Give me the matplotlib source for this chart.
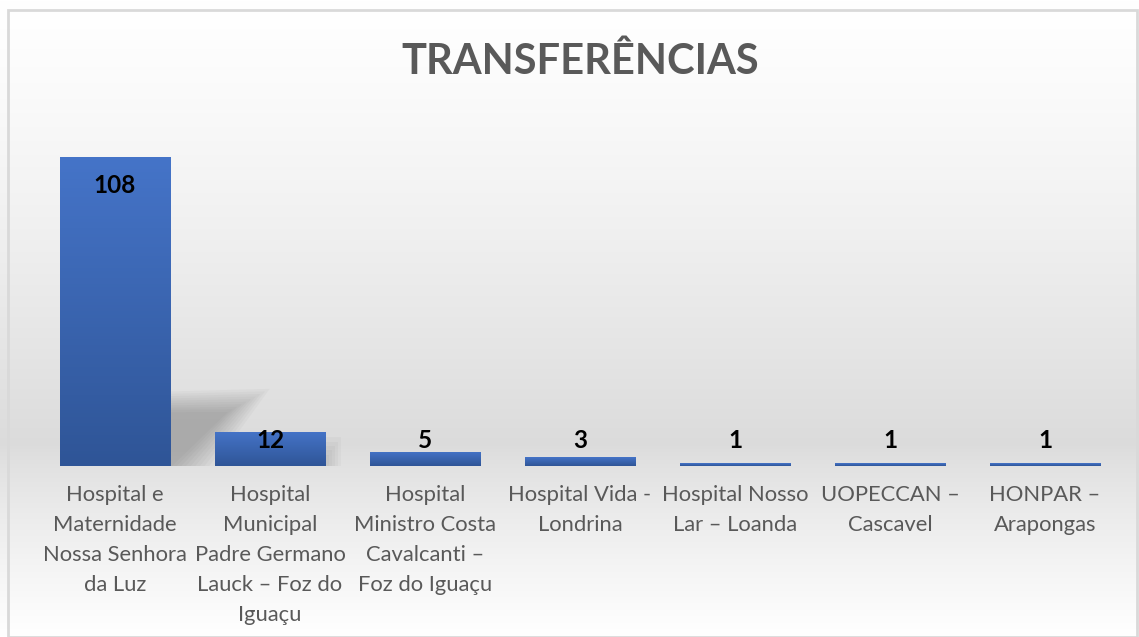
import numpy as np
import matplotlib.pyplot as plt
from matplotlib.patches import Rectangle, Polygon

# Data
categories = [
    "Hospital e\nMaternidade\nNossa Senhora\nda Luz",
    "Hospital\nMunicipal\nPadre Germano\nLauck – Foz do\nIguaçu",
    "Hospital\nMinistro Costa\nCavalcanti –\nFoz do Iguaçu",
    "Hospital Vida -\nLondrina",
    "Hospital Nosso\nLar – Loanda",
    "UOPECCAN –\nCascavel",
    "HONPAR –\nArapongas",
]
values = [108, 12, 5, 3, 1, 1, 1]
title = "TRANSFERÊNCIAS"

plt.rcParams['font.family'] = ['Lato', 'DejaVu Sans']

W, H = 1139, 637
fig = plt.figure(figsize=(W / 100, H / 100), dpi=100)

# background gradient (white -> light gray -> white)
bg = fig.add_axes([0, 0, 1, 1], zorder=0)
rows = np.linspace(0, 1, 400)  # 0 = top
peak = 445 / H
shade = np.where(rows < peak,
                 1.0 - 0.14 * (rows / peak) ** 1.3,
                 0.86 + 0.14 * ((rows - peak) / (1 - peak)) ** 0.8)
img = np.repeat(shade[:, None], 2, axis=1)
bg.imshow(np.dstack([img, img, img]), aspect='auto', extent=[0, 1, 0, 1], origin='upper')
bg.add_patch(Rectangle((8 / W, 0), (1137 - 8) / W, 1 - 10 / H, fill=False,
                       edgecolor='#d9d9d9', linewidth=2))
bg.set_xlim(0, 1)
bg.set_ylim(0, 1)
bg.axis('off')

ax = fig.add_axes([37.5 / W, (H - 466) / H, 1085 / W, (466 - 123) / H], zorder=1)
ax.patch.set_alpha(0)
x = np.arange(len(categories))
bw = 0.716

# soft shadow behind the tall bar
x0 = x[0] + bw / 2
for k in range(10):
    s = k * 0.03
    ax.add_patch(Polygon([(x0 - 0.05, 0), (x0 - 0.05, 26 - k * 0.8),
                          (x0 + 0.64 - s, 27 - k * 0.9), (x0 + 0.28 - s, 0)],
                         closed=True, facecolor='#505050', edgecolor='none', alpha=0.04, zorder=1))
x1 = x[1] + bw / 2
for k in range(5):
    ax.add_patch(Rectangle((x1 - 0.03, 0), 0.13 - k * 0.02, 10 - k * 1.5,
                           facecolor='#505050', edgecolor='none', alpha=0.04, zorder=1))

bars = ax.bar(x, values, width=bw, color='#4472c4', zorder=2)
grad = np.linspace(0, 1, 100)[:, None]
top_c = np.array([0x45, 0x74, 0xc8]) / 255
bot_c = np.array([0x2f, 0x55, 0x97]) / 255
gimg = top_c[None, None, :] * (1 - grad[:, :, None]) + bot_c[None, None, :] * grad[:, :, None]
for b in bars:
    im = ax.imshow(gimg, aspect='auto', origin='upper', zorder=3,
                   extent=[b.get_x(), b.get_x() + b.get_width(), 0, max(b.get_height(), 1)])
    im.set_clip_path(b)

for xi, v in zip(x, values):
    ax.text(xi, max(v - 10, 9), str(v), ha='center', va='center', fontsize=17.5,
            fontweight='bold', color='black', zorder=4)

ax.set_xlim(-0.5, len(categories) - 0.5)
ax.set_ylim(0, 120)
ax.set_xticks(x)
ax.set_xticklabels(categories, fontsize=15.8, color='#595959', linespacing=1.62, va='top')
ax.tick_params(axis='x', length=0, pad=14)
ax.set_yticks([])
for sp in ax.spines.values():
    sp.set_visible(False)

fig.text(580 / W, 1 - 62 / H, title, ha='center', va='center', fontsize=30,
         fontweight='bold', color='#595959')

fig.savefig('out.png', dpi=100)
